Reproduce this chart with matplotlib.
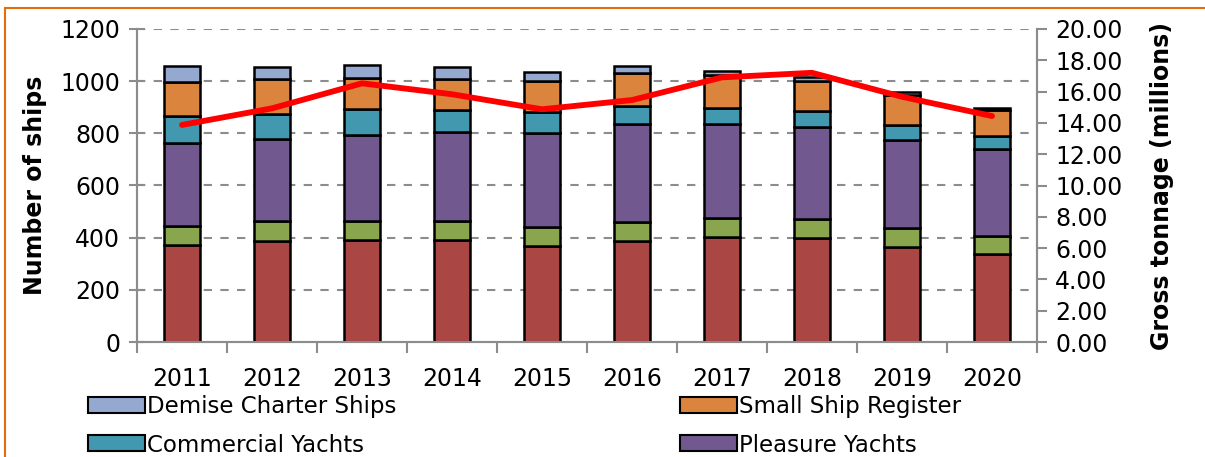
import numpy as np
import matplotlib
matplotlib.use("Agg")
import matplotlib.pyplot as plt
from matplotlib.patches import Rectangle

years = ["2011", "2012", "2013", "2014", "2015", "2016", "2017", "2018", "2019", "2020"]

# stacked from bottom to top
merchant = [373, 388, 392, 391, 367, 386, 404, 399, 365, 337]
fishing = [70, 74, 73, 72, 73, 74, 72, 74, 71, 71]
pleasure_yachts = [321, 316, 327, 341, 360, 375, 359, 353, 340, 332]
commercial_yachts = [102, 98, 100, 84, 80, 70, 62, 59, 55, 51]
small_ship = [131, 132, 122, 122, 119, 125, 128, 116, 115, 100]
demise_charter = [62, 45, 49, 45, 37, 28, 14, 16, 13, 8]

gross_tonnage = [13.87, 14.93, 16.53, 15.83, 14.87, 15.46, 16.91, 17.20, 15.67, 14.44]

series = [
    ("Merchant Ships", merchant, "#AA4643"),
    ("Fishing Vessels", fishing, "#89A54E"),
    ("Pleasure Yachts", pleasure_yachts, "#71588F"),
    ("Commercial Yachts", commercial_yachts, "#4198AF"),
    ("Small Ship Register", small_ship, "#DB843D"),
    ("Demise Charter Ships", demise_charter, "#94A8D0"),
]

W, H = 1205, 457
fig = plt.figure(figsize=(W / 100, H / 100), dpi=100)
ax = fig.add_axes([137 / W, 1 - 342 / H, 900 / W, 313 / H])

x = np.arange(len(years))
bottom = np.zeros(len(years))
for name, vals, col in series:
    ax.bar(x, vals, width=0.4, bottom=bottom, color=col, edgecolor="black",
           linewidth=1.8, zorder=3)
    bottom += np.array(vals)

gray = "#8c8c8c"
ax.set_xlim(-0.5, len(years) - 0.5)
ax.set_ylim(0, 1200)
ax.set_yticks(np.arange(0, 1201, 200))
ax.set_xticks(x)
ax.set_xticklabels(years, fontsize=17)
ax.set_xticks(np.arange(-0.5, len(years), 1), minor=True)
ax.tick_params(axis="x", which="major", length=0, pad=18)
ax.tick_params(axis="x", which="minor", length=8, color=gray, width=1.5, direction="out")
ax.tick_params(axis="y", labelsize=17, length=12, direction="inout", color=gray, width=1.5, pad=6)
for yv in range(200, 1201, 200):
    ax.axhline(yv, color=gray, linestyle=(0, (4, 4)), linewidth=1.5, zorder=1)
ax.spines["top"].set_visible(False)
for s in ["left", "bottom", "right"]:
    ax.spines[s].set_color(gray)
    ax.spines[s].set_linewidth(1.5)
ax.set_ylabel("Number of ships", fontsize=17, fontweight="bold", labelpad=10)

ax2 = ax.twinx()
ax2.plot(x, gross_tonnage, color="#FF0000", linewidth=4.2, solid_capstyle="round", zorder=5)
ax2.set_ylim(0, 20)
ax2.set_yticks(np.arange(0, 20.01, 2))
ax2.set_yticklabels([f"{v:.2f}" for v in np.arange(0, 20.01, 2)])
ax2.tick_params(axis="y", labelsize=17, length=7, direction="out", color=gray, width=1.5, pad=6)
ax2.spines["top"].set_visible(False)
for s in ["left", "bottom", "right"]:
    ax2.spines[s].set_color(gray)
    ax2.spines[s].set_linewidth(1.5)
ax2.set_ylabel("Gross tonnage (millions)", fontsize=17, fontweight="bold", labelpad=20)

# legend (only the visible rows of the original)
legend_items = [
    ("Demise Charter Ships", "#94A8D0", 88, 405),
    ("Small Ship Register", "#DB843D", 680, 405),
    ("Commercial Yachts", "#4198AF", 88, 443),
    ("Pleasure Yachts", "#71588F", 680, 443),
]
for label, col, px, py in legend_items:
    fig.add_artist(Rectangle((px / W, 1 - (py + 8) / H), 57 / W, 16 / H,
                             facecolor=col, edgecolor="black", linewidth=1.5,
                             transform=fig.transFigure))
    fig.text((px + 59) / W, 1 - (py + 2) / H, label, fontsize=16.5, va="center", ha="left")

# orange frame
fig.add_artist(Rectangle((5 / W, -0.1), 1.2, 1 - 8 / H + 0.1, fill=False,
                         edgecolor="#E46C0A", linewidth=1.5, transform=fig.transFigure))

fig.savefig("out.png", dpi=100)
